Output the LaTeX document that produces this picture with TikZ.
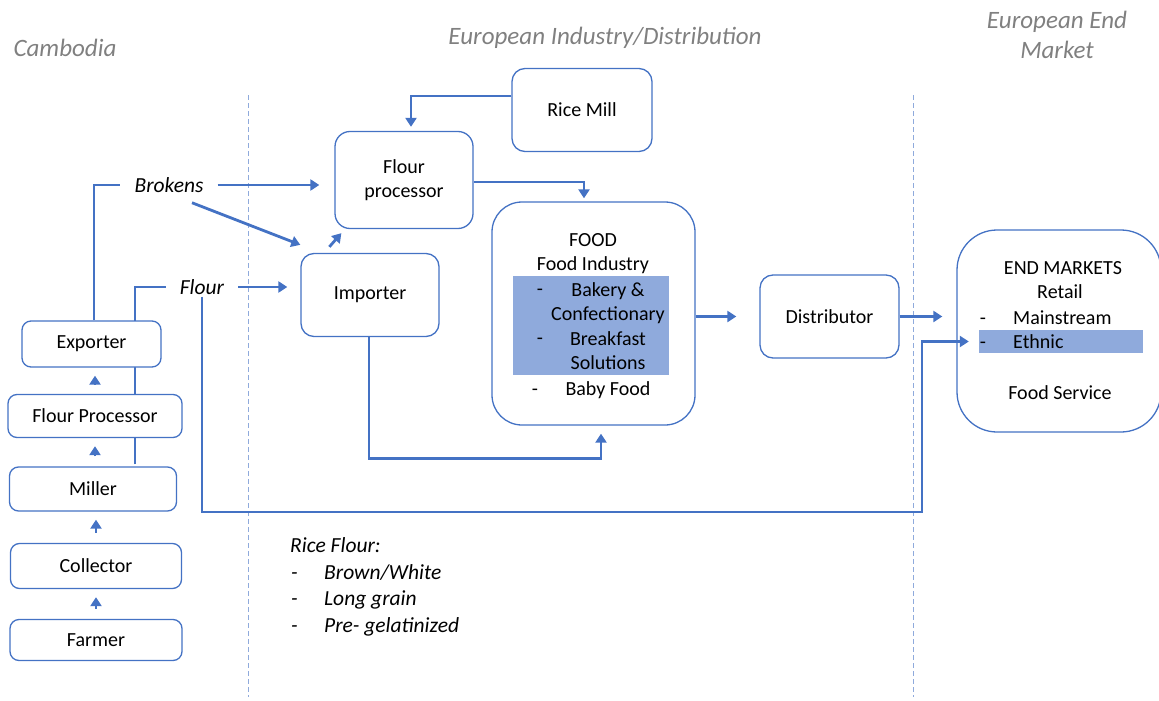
\documentclass[tikz,border=0pt]{standalone}
\usepackage{fontspec}
\setmainfont{Carlito}
\usetikzlibrary{arrows.meta,backgrounds}
\definecolor{lineblue}{HTML}{4472C4}
\definecolor{hiblue}{HTML}{8FAADC}
\definecolor{headgray}{HTML}{808080}

\begin{document}
\begin{tikzpicture}[x=1pt,y=-1pt,
  every node/.style={font=\fontsize{20}{24.5}\selectfont},
  box/.style={draw=lineblue, line width=1.3pt, rounded corners=9pt, fill=white,
              align=center, inner sep=0pt},
  conn/.style={draw=lineblue, line width=2.8pt},
  arr/.style={conn, -{Triangle[length=9pt,width=11pt]}},
  flowlabel/.style={font=\fontsize{21.5}{26}\selectfont\itshape, inner xsep=14pt, inner ysep=2pt},
  heading/.style={font=\fontsize{25}{30}\selectfont\itshape, text=headgray, align=center},
  divider/.style={draw=hiblue, line width=1pt, dash pattern=on 5pt off 3pt},
  highlight/.style={fill=hiblue, inner sep=0pt},
  txt/.style={inner sep=0pt, text height=13pt, text depth=0pt},
  plain/.style={txt, anchor=west},
]
\useasboundingbox (0,0) rectangle (1159,701);

% region headings and dividers
\node[heading] (hcam) at (65,48) {Cambodia};
\node[heading] (hind) at (605,38) {European Industry/Distribution};
\node[heading] (hend) at (1057,35) {European End\\Market};
\draw[divider] (248,95) -- (248,697);
\draw[divider] (913,95) -- (913,697);

% Cambodian chain
\node[box, minimum width=172pt, minimum height=41pt] (farmer) at (96,640) {Farmer};
\node[box, minimum width=171pt, minimum height=45pt] (collector) at (96,566) {Collector};
\node[box, minimum width=167pt, minimum height=44pt] (miller) at (93,489) {Miller};
\node[box, minimum width=174pt, minimum height=43pt] (fproc) at (95,416) {Flour Processor};
\node[box, minimum width=139pt, minimum height=46pt] (exporter) at (91.5,344) {Exporter};

% product labels
\node[flowlabel] (brokens) at (169,185) {Brokens};
\node[flowlabel] (flour) at (202,287) {Flour};

% European industry
\node[box, rounded corners=13pt, minimum width=140pt, minimum height=83pt] (ricemill) at (582,110) {Rice Mill};
\node[box, rounded corners=15pt, minimum width=138pt, minimum height=97pt] (flourproc) at (404,180) {Flour\\processor};
\node[box, rounded corners=13pt, minimum width=138pt, minimum height=83pt] (importer) at (370,295) {Importer};
\node[box, rounded corners=30pt, minimum width=203pt, minimum height=223pt] (food) at (593.5,313.5) {};
\node[box, rounded corners=13pt, minimum width=139pt, minimum height=83pt] (distributor) at (829.5,316.5) {Distributor};
\node[box, rounded corners=40pt, minimum width=204pt, minimum height=202pt] (endm) at (1059,331) {};

% contents of the food box
\node[txt] (foodt) at (593,240) {FOOD};
\node[txt] (foodi) at (593,264) {Food Industry};
\node[highlight, minimum width=156pt, minimum height=99pt] (foodhl) at (591,325.5) {};
\node[align=center, inner sep=0pt] (foodlist) at (608,326) {Bakery \&\\Confectionary\\Breakfast\\Solutions};
\node[txt] (d1) at (540,289) {-};
\node[txt] (d2) at (540,338) {-};
\node[txt] (d3) at (535,389) {-};
\node[txt] (baby) at (608,389) {Baby Food};

% contents of the end market box
\node[txt] (emt) at (1063,268) {END MARKETS};
\node[txt] (retail) at (1060,292) {Retail};
\node[highlight, minimum width=164pt, minimum height=23pt] (ethnic) at (1061,341.5) {};
\node[txt] (d4) at (983,318) {-};
\node[txt] (d5) at (983,342) {-};
\node[plain] (mainstream) at (1013,318) {Mainstream};
\node[plain] (ethnict) at (1013,342) {Ethnic};
\node[txt] (fserv) at (1060,393) {Food Service};

% rice flour varieties
\begin{scope}[every node/.style={font=\fontsize{21.5}{26}\selectfont\itshape, inner sep=0pt,
    anchor=west, text height=14pt, text depth=0pt}]
\node (rf) at (290,545) {Rice Flour:};
\node (rf1d) at (291,572) {-};
\node (rf2d) at (291,598) {-};
\node (rf3d) at (291,625) {-};
\node (rf1) at (324,572) {Brown/White};
\node (rf2) at (324,598) {Long grain};
\node (rf3) at (324,625) {Pre- gelatinized};
\end{scope}

% arrows up the Cambodian chain
\draw[arr, shorten <=10pt, shorten >=8pt] (farmer.north) -- (collector.south);
\draw[arr, shorten <=10pt, shorten >=8pt] (collector.north) -- (miller.south -| collector.north);
\draw[arr, shorten <=10pt, shorten >=8pt] (miller.north -| fproc.south) -- (fproc.south);
\draw[arr, shorten <=10pt, shorten >=8pt] (fproc.north) -- (exporter.south -| fproc.north);

% export flows; the flour line runs behind the chain boxes
\begin{pgfonlayer}{background}
\draw[conn] ([xshift=42pt,yshift=2pt]miller.north) |- (flour.west);
\end{pgfonlayer}
\draw[conn] ([xshift=2.5pt]exporter.north) |- (brokens.west);

\draw[arr, shorten >=15pt] (brokens.east) -- (flourproc.west |- brokens.east);
\draw[arr] ([shift={(23,8)}]brokens.south) -- ([shift={(0,-8)}]importer.north west);
\draw[arr, shorten >=13pt] (flour.east) -- (importer.west |- flour.east);
\draw[arr] ([shift={(29,-6)}]importer.north west) -- ([shift={(7,4)}]flourproc.south west);

\draw[arr, shorten >=4pt] ([yshift=14pt]ricemill.west) -| ([xshift=7pt]flourproc.north);
\draw[arr, shorten >=3pt] ([yshift=-2pt]flourproc.east) -| ([xshift=-9.5pt]food.north);
\draw[arr, shorten >=8pt] ([xshift=-1pt]importer.south) -- ++(0,121) -| ([xshift=7.5pt]food.south);
\draw[arr, shorten >=23pt] (food.east |- distributor.west) -- (distributor.west);
\draw[arr, shorten >=14pt] (distributor.east) -- (endm.west |- distributor.east);

\coordinate (flourturn) at (922,512);
\draw[arr, shorten >=10pt] (flour.south) |- (flourturn) |- (ethnic.west);
\end{tikzpicture}
\end{document}
